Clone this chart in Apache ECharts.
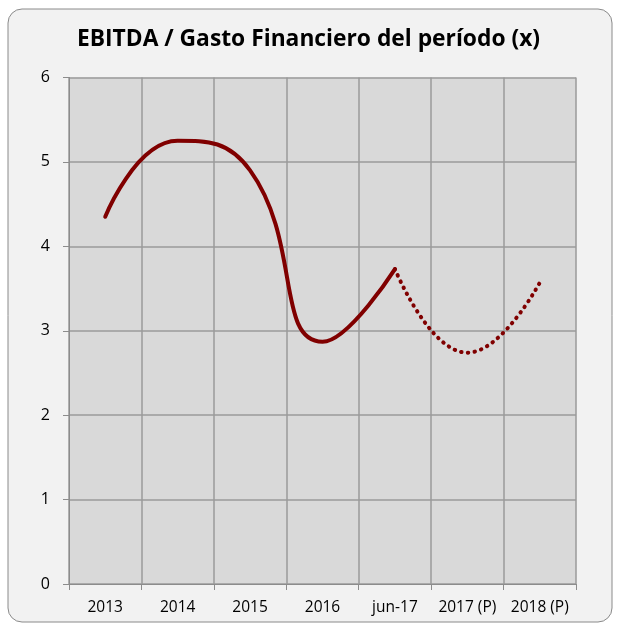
<!DOCTYPE html>
<html lang="es">
<head>
<meta charset="UTF-8">
<title>EBITDA / Gasto Financiero</title>
<style>
  html, body { margin: 0; padding: 0; background: #fff; }
  #chart { width: 617px; height: 625px; }
</style>
</head>
<body>
<div id="chart"></div>
<script src="https://cdn.jsdelivr.net/npm/echarts@6/dist/echarts.min.js"></script>
<script>
// datos
var periodos = ['2013', '2014', '2015', '2016', 'jun-17', '2017 (P)', '2018 (P)'];
var realVals = [4.35, 5.25, 4.9, 2.87, 3.73, '-', '-'];
var proyVals = ['-', '-', '-', '-', 3.73, 2.74, 3.57];
var yTicks = [0, 1, 2, 3, 4, 5, 6];

var chart = echarts.init(document.getElementById('chart'));
var font = 'Open Sans';

var option = {
    animation: false,
    backgroundColor: '#ffffff',
    graphic: [{
        type: 'rect',
        z: -10,
        shape: { x: 8, y: 9, width: 604, height: 613, r: 14 },
        style: { fill: '#f2f2f2', stroke: '#8a8a8a', lineWidth: 1 }
    }],
    title: {
        text: 'EBITDA / Gasto Financiero del período (x)',
        left: 'center',
        top: 23,
        textStyle: { fontFamily: font, fontWeight: 'bold', fontSize: 22.8, color: '#000' }
    },
    grid: {
        left: 69, right: 41, top: 77.5, bottom: 41,
        show: true, backgroundColor: '#d9d9d9', borderWidth: 0
    },
    xAxis: {
        type: 'category',
        data: periodos,
        boundaryGap: true,
        axisLine: { lineStyle: { color: '#8c8c8c', width: 1 } },
        axisTick: { show: true, length: 6, lineStyle: { color: '#8c8c8c' } },
        splitLine: { show: true, lineStyle: { color: '#9a9a9a', width: 1.5 } },
        axisLabel: { fontFamily: font, fontSize: 15.5, color: '#000', margin: 16, interval: 0 }
    },
    yAxis: {
        type: 'value',
        min: yTicks[0],
        max: yTicks[yTicks.length - 1],
        interval: 1,
        axisLine: { show: true, lineStyle: { color: '#8c8c8c', width: 1 } },
        axisTick: { show: true, length: 6, lineStyle: { color: '#8c8c8c' } },
        splitLine: { show: true, lineStyle: { color: '#9a9a9a', width: 1.5 } },
        axisLabel: { fontFamily: font, fontSize: 16, color: '#000', margin: 19 }
    },
    series: [{
        name: 'real',
        type: 'line',
        data: realVals,
        smooth: 0.5,
        symbol: 'none',
        lineStyle: { color: '#800000', width: 4, cap: 'round' }
    }, {
        name: 'proyectado',
        type: 'line',
        data: proyVals,
        smooth: 0.5,
        symbol: 'none',
        lineStyle: { color: '#800000', width: 4, cap: 'round', type: [0.5, 6.3] }
    }]
};

chart.setOption(option);
</script>
</body>
</html>
